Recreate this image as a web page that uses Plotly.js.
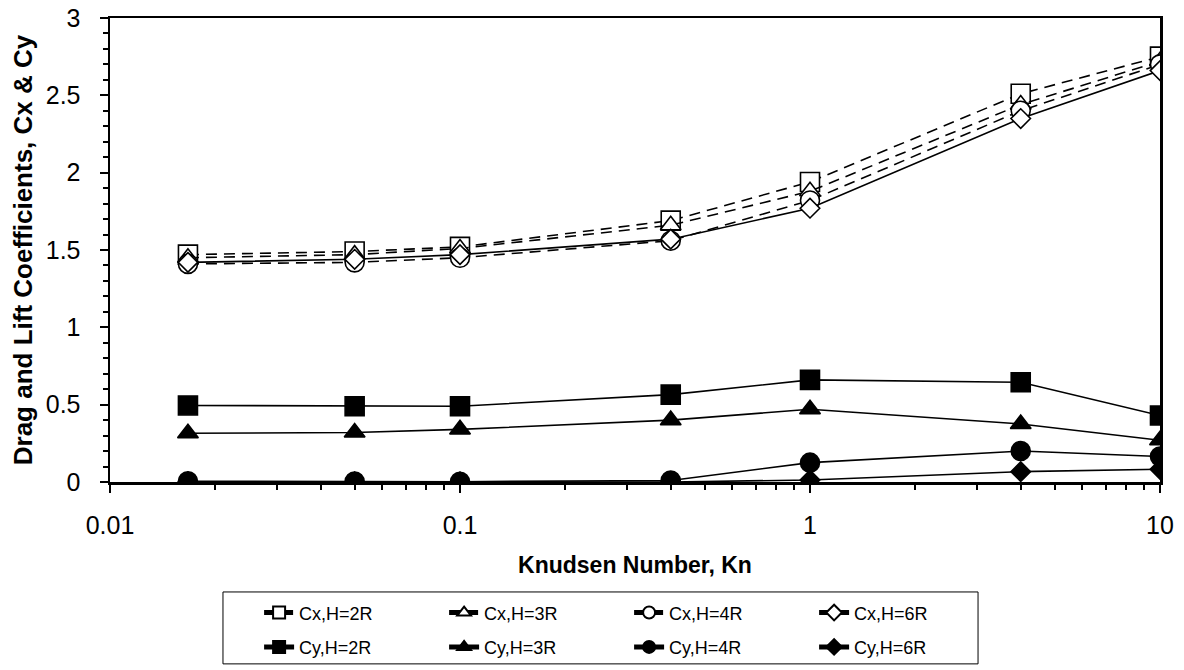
<!DOCTYPE html>
<html><head><meta charset="utf-8">
<script src="https://cdn.plot.ly/plotly-3.0.1.min.js"></script>
<style>body{margin:0;background:#fff}#chart{width:1184px;height:670px}</style>
</head><body><div id="chart"></div>
<script>
const kn = [0.0167, 0.05, 0.1, 0.4, 1, 4, 10];
const cxH2R = [1.47, 1.49, 1.52, 1.69, 1.94, 2.51, 2.75];
const cxH3R = [1.45, 1.47, 1.51, 1.66, 1.88, 2.44, 2.72];
const cxH4R = [1.41, 1.42, 1.45, 1.56, 1.82, 2.40, 2.70];
const cxH6R = [1.42, 1.44, 1.47, 1.57, 1.77, 2.35, 2.66];
const cyH2R = [0.495, 0.49, 0.49, 0.565, 0.66, 0.645, 0.43];
const cyH3R = [0.315, 0.32, 0.34, 0.40, 0.47, 0.375, 0.27];
const cyH4R = [0.005, 0.003, 0.002, 0.01, 0.125, 0.20, 0.165];
const cyH6R = [0, 0, 0, 0, 0.013, 0.067, 0.082];
const seriesNames = ['Cx,H=2R','Cx,H=3R','Cx,H=4R','Cx,H=6R','Cy,H=2R','Cy,H=3R','Cy,H=4R','Cy,H=6R'];

const FONT = 'Liberation Sans, Arial, sans-serif';
const DASH = '11px,7px';
function tr(y, name, symbol, size, filled, dash, legend) {
  return {
    x: kn, y: y, name: name, type: 'scatter', mode: 'lines+markers',
    legend: legend,
    line: {color: '#000', width: 1.6, dash: dash},
    marker: {symbol: symbol, size: size, color: filled ? '#000' : '#fff',
             line: {color: '#000', width: 1.6}}
  };
}
const data = [
  tr(cyH2R, seriesNames[4], 'square', 19, true, 'solid', 'legend2'),
  tr(cyH3R, seriesNames[5], 'triangle-up', 18, true, 'solid', 'legend2'),
  tr(cyH4R, seriesNames[6], 'circle', 19, true, 'solid', 'legend2'),
  tr(cyH6R, seriesNames[7], 'diamond', 15, true, 'solid', 'legend2'),
  tr(cxH2R, seriesNames[0], 'square', 19, false, DASH, 'legend'),
  tr(cxH3R, seriesNames[1], 'triangle-up', 18, false, DASH, 'legend'),
  tr(cxH4R, seriesNames[2], 'circle', 19, false, DASH, 'legend'),
  tr(cxH6R, seriesNames[3], 'diamond', 15, false, 'solid', 'legend')
];
const legendCommon = {
  orientation: 'h', xanchor: 'left', yanchor: 'middle',
  font: {family: FONT, size: 18, color: '#000'},
  entrywidth: 140, entrywidthmode: 'pixels',
  itemsizing: 'constant', traceorder: 'normal',
  bgcolor: 'rgba(0,0,0,0)', borderwidth: 0
};
const layout = {
  width: 1184, height: 670,
  margin: {l: 110, r: 24, t: 18, b: 188, autoexpand: false},
  paper_bgcolor: '#fff', plot_bgcolor: '#fff',
  font: {family: FONT, color: '#000'},
  showlegend: true,
  xaxis: {
    type: 'log', range: [-2, 1], dtick: 1,
    showgrid: false, zeroline: false,
    showline: true, linecolor: '#000', linewidth: 2.5, mirror: true,
    ticks: 'outside', ticklen: 8, tickwidth: 2, tickcolor: '#000',
    minor: {ticks: 'outside', ticklen: 5, tickwidth: 2, tickcolor: '#000', dtick: 'D1', showgrid: false},
    tickfont: {family: FONT, size: 25, color: '#000'},
    ticklabelstandoff: 11,
    title: {text: 'Knudsen Number, Kn', font: {family: FONT, size: 23, color: '#000', weight: 'bold'}, standoff: 20}
  },
  yaxis: {
    range: [0, 3], dtick: 0.5,
    showgrid: false, zeroline: false,
    showline: true, linecolor: '#000', linewidth: 2.5, mirror: true,
    ticks: 'outside', ticklen: 8, tickwidth: 2, tickcolor: '#000',
    minor: {ticks: 'outside', ticklen: 5, tickwidth: 2, tickcolor: '#000', dtick: 0.1, showgrid: false},
    tickfont: {family: FONT, size: 25, color: '#000'},
    ticklabelstandoff: 14,
    title: {text: 'Drag and Lift Coefficients, Cx & Cy', font: {family: FONT, size: 26, color: '#000', weight: 'bold'}, standoff: 6}
  },
  legend: Object.assign({x: 0.142, y: -0.282}, legendCommon),
  legend2: Object.assign({x: 0.142, y: -0.356}, legendCommon),
  shapes: [{
    type: 'rect', xref: 'paper', yref: 'paper',
    x0: 0.1076, x1: 0.8267, y0: -0.237, y1: -0.392,
    line: {color: '#000', width: 1}, fillcolor: 'rgba(0,0,0,0)'
  }]
};
Plotly.newPlot('chart', data, layout, {displayModeBar: false, staticPlot: true});
</script>
</body></html>
